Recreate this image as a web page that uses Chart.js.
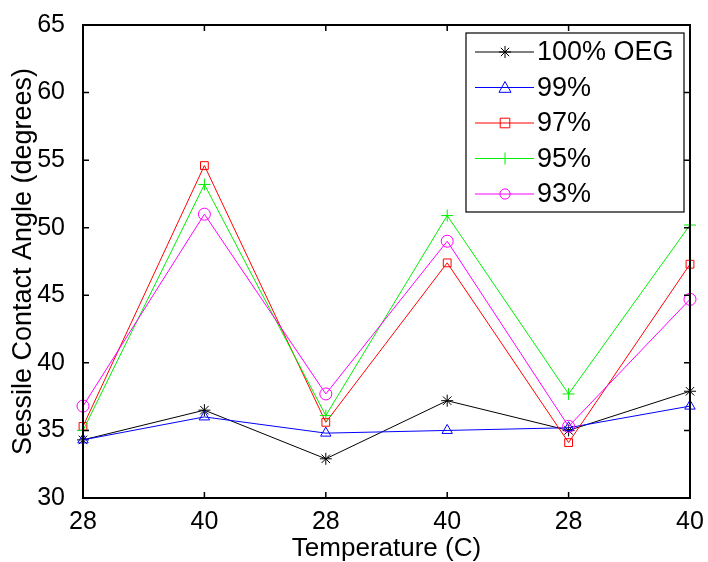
<!DOCTYPE html>
<html>
<head>
<meta charset="utf-8">
<script src="https://cdn.jsdelivr.net/npm/chart.js@4.4.1/dist/chart.umd.min.js"></script>
<style>
  html, body { margin: 0; padding: 0; background: #fff; }
  #wrap { width: 708px; height: 562px; }
</style>
</head>
<body>
<div id="wrap"><canvas id="myChart" width="708" height="562"></canvas></div>
<script>
// temperature sequence along the x axis
const temps = ['28', '40', '28', '40', '28', '40'];
const yTicks = [30, 35, 40, 45, 50, 55, 60, 65];

const seriesNames = ['100% OEG', '99%', '97%', '95%', '93%'];
const oeg100 = [34.3, 36.5, 32.9, 37.2, 35.0, 37.9];
const oeg99 = [34.3, 36.0, 34.8, 35.0, 35.2, 36.8];
const oeg97 = [35.3, 54.6, 35.6, 47.4, 34.1, 47.3];
const oeg95 = [35.0, 53.2, 36.1, 50.9, 37.7, 50.2];
const oeg93 = [36.8, 51.0, 37.7, 49.0, 35.3, 44.7];

const colors = ['#000000', '#0000ff', '#ff0000', '#00ee00', '#ff00ff'];
const markers = ['star', 'triangle', 'rect', 'cross', 'circle'];
const allData = [oeg100, oeg99, oeg97, oeg95, oeg93];

const FONT = 'Arial, "Liberation Sans", Helvetica, sans-serif';

// matlab style box with inward ticks
const boxPlugin = {
  id: 'matlabBox',
  afterDraw(chart) {
    const { ctx, chartArea: a, scales } = chart;
    ctx.save();
    ctx.strokeStyle = '#000';
    ctx.lineWidth = 1.5;
    yTicks.forEach(v => {
      const y = scales.y.getPixelForValue(v);
      ctx.beginPath();
      ctx.moveTo(a.left, y); ctx.lineTo(a.left + 6, y);
      ctx.moveTo(a.right, y); ctx.lineTo(a.right - 6, y);
      ctx.stroke();
    });
    temps.forEach((t, i) => {
      const x = scales.x.getPixelForValue(i);
      ctx.beginPath();
      ctx.moveTo(x, a.bottom); ctx.lineTo(x, a.bottom - 6);
      ctx.moveTo(x, a.top); ctx.lineTo(x, a.top + 6);
      ctx.stroke();
    });
    ctx.lineWidth = 2;
    ctx.strokeRect(a.left, a.top, a.right - a.left, a.bottom - a.top);
    ctx.restore();
  }
};

function drawMarker(ctx, style, x, y, r) {
  ctx.beginPath();
  if (style === 'star') {
    ctx.moveTo(x - r, y); ctx.lineTo(x + r, y);
    ctx.moveTo(x, y - r); ctx.lineTo(x, y + r);
    const d = r * 0.7;
    ctx.moveTo(x - d, y - d); ctx.lineTo(x + d, y + d);
    ctx.moveTo(x - d, y + d); ctx.lineTo(x + d, y - d);
  } else if (style === 'triangle') {
    ctx.moveTo(x, y - r); ctx.lineTo(x + r, y + r * 0.8); ctx.lineTo(x - r, y + r * 0.8); ctx.closePath();
  } else if (style === 'rect') {
    ctx.rect(x - r * 0.8, y - r * 0.8, r * 1.6, r * 1.6);
  } else if (style === 'cross') {
    ctx.moveTo(x - r, y); ctx.lineTo(x + r, y);
    ctx.moveTo(x, y - r); ctx.lineTo(x, y + r);
  } else {
    ctx.arc(x, y, r * 0.85, 0, Math.PI * 2);
  }
  ctx.stroke();
}

const legendPlugin = {
  id: 'insideLegend',
  afterDraw(chart) {
    const { ctx } = chart;
    const bx = 466, by = 33, bw = 218, bh = 179;
    ctx.save();
    ctx.fillStyle = '#fff';
    ctx.fillRect(bx, by, bw, bh);
    ctx.strokeStyle = '#000';
    ctx.lineWidth = 1.2;
    ctx.strokeRect(bx, by, bw, bh);
    ctx.font = '27px ' + FONT;
    ctx.textBaseline = 'middle';
    seriesNames.forEach((name, i) => {
      const y = 52 + i * 35.5;
      ctx.strokeStyle = colors[i];
      ctx.lineWidth = 1;
      ctx.beginPath();
      ctx.moveTo(475, y); ctx.lineTo(534, y);
      ctx.stroke();
      drawMarker(ctx, markers[i], 505, y, 6);
      ctx.fillStyle = '#000';
      ctx.fillText(name, 537, y + 1);
    });
    ctx.restore();
  }
};

const datasets = seriesNames.map((name, i) => ({
  label: name,
  data: allData[i],
  borderColor: colors[i],
  backgroundColor: 'rgba(0,0,0,0)',
  borderWidth: 1,
  pointStyle: markers[i],
  pointRadius: markers[i] === 'rect' ? 5.5 : 6,
  pointBorderWidth: 1,
  pointBorderColor: colors[i],
  pointBackgroundColor: 'rgba(0,0,0,0)',
  tension: 0,
  clip: false,
  order: seriesNames.length - i
}));

new Chart(document.getElementById('myChart').getContext('2d'), {
  type: 'line',
  data: { labels: temps, datasets: datasets },
  plugins: [boxPlugin, legendPlugin],
  options: {
    responsive: false,
    animation: false,
    layout: { padding: { left: 0, top: 22, right: 18, bottom: 0 } },
    plugins: { legend: { display: false }, tooltip: { enabled: false } },
    scales: {
      x: {
        type: 'category',
        offset: false,
        grid: { display: false },
        border: { display: false },
        ticks: { color: '#000', font: { family: FONT, size: 25 }, padding: 1, maxRotation: 0, autoSkip: false },
        title: { display: true, text: 'Temperature (C)', color: '#000', font: { family: FONT, size: 26, lineHeight: 1 }, padding: { top: 0, bottom: 0 } },
        afterFit(scale) { scale.height = 64; }
      },
      y: {
        min: 30, max: 65,
        grid: { display: false },
        border: { display: false },
        afterBuildTicks(scale) { scale.ticks = yTicks.map(v => ({ value: v })); },
        ticks: { color: '#000', font: { family: FONT, size: 25 }, padding: 10 },
        title: { display: true, text: 'Sessile Contact Angle (degrees)', color: '#000', font: { family: FONT, size: 27, lineHeight: 1 }, padding: { top: 10, bottom: 0 } },
        afterFit(scale) { scale.width = 83; }
      }
    }
  }
});
</script>
</body>
</html>
